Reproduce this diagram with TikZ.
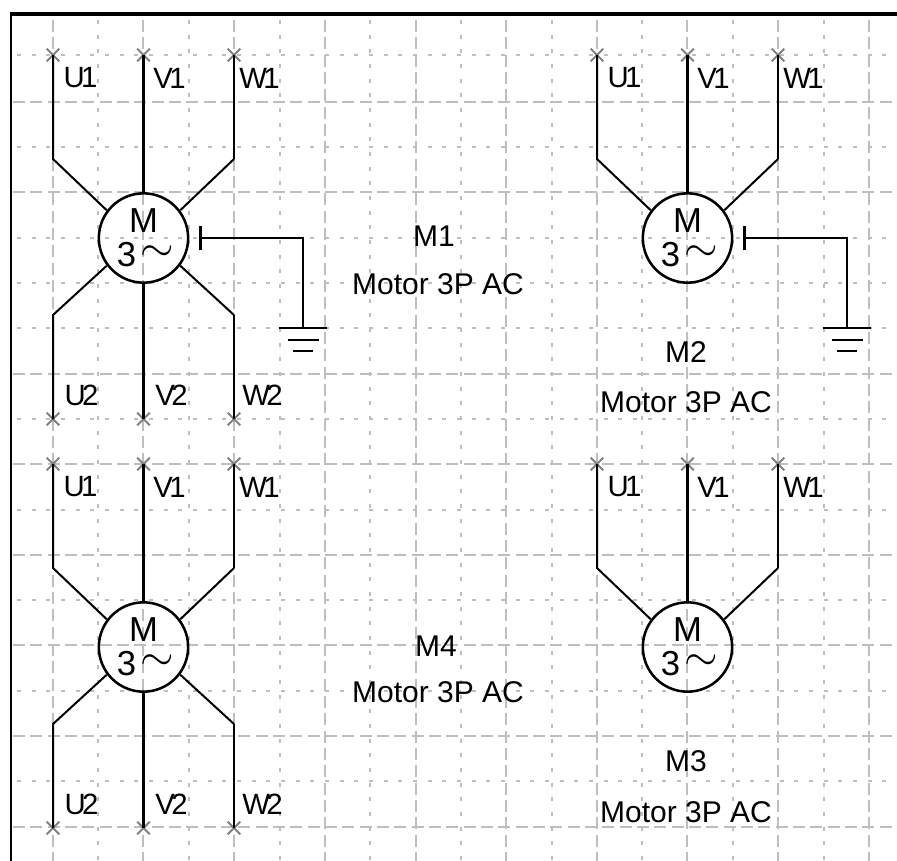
\documentclass[tikz,border=0pt]{standalone}
\usepackage{fontspec}
\setmainfont{Liberation Sans}
\newfontfamily\pinfont[LetterSpace=-12]{Liberation Sans}
\usetikzlibrary{shapes.misc}
\definecolor{gridgray}{RGB}{190,190,190}
\definecolor{crossgray}{RGB}{128,128,128}
\tikzset{every picture/.style={line width=0.75pt}}
\tikzset{
	majorgrid/.style={draw=gridgray,line width=2.1pt,dash pattern=on 9 off 4},
	minorgrid/.style={draw=gridgray,line width=2.1pt,dash pattern=on 3 off 8},
	wire/.style={draw=black,line width=2.2pt},
	thinwire/.style={draw=black,line width=1.5pt},
	terminal/.style={cross out,draw=crossgray,line width=1.5pt,minimum size=8pt,inner sep=0pt},
	motorbody/.style={circle,draw=black,line width=1.9pt,minimum size=67pt,inner sep=0pt},
	pinlabel/.style={inner sep=0pt,font=\pinfont\fontsize{22}{26}\selectfont},
	windinglabel/.style={inner sep=0pt,font=\fontsize{26}{30}\selectfont},
	tildelabel/.style={inner sep=0pt,scale=1.3,font=\fontsize{24}{24}\selectfont},
	motorlabel/.style={inner sep=0pt,font=\fontsize{22.5}{26}\selectfont},
}
\begin{document}
\begin{tikzpicture}[x=0.75pt,y=0.75pt,yscale=-1,xscale=1]
	\useasboundingbox (0,0) rectangle (897,861);

	%grid
	\begin{scope}
	\clip (11,14) rectangle (897,861);
	\foreach \gx in {53,143,234,325,416,506,597,687,778,869}
		\draw [majorgrid] (\gx,20) -- (\gx,861);
	\foreach \gx in {98,189,280,370,461,552,642,733,824}
		\draw [minorgrid] (\gx,20) -- (\gx,861);
	\foreach \gy in {102,192,374,464,555,645,736,827}
		\draw [majorgrid] (13,\gy) -- (897,\gy);
	\foreach \gy in {55,147,238,283,328,419,510,600,691,781}
		\draw [minorgrid] (17,\gy) -- (897,\gy);
	\end{scope}

	%frame
	\draw [line width=1.7pt] (11,861) -- (11,14);
	\draw [line width=2.6pt] (10,14) -- (897,14);

	%motors, upper half
	\foreach \name/\cx/\cy in {mone/143.5/238,mtwo/687.5/238,mthree/687.5/647,mfour/143.5/647}{
		\begin{scope}[shift={(\cx,\cy)}]
		\node [motorbody] (\name) at (0,0) {};
		\node [terminal] (\name u1) at (-90.5,-183) {};
		\node [terminal] (\name v1) at (0,-183) {};
		\node [terminal] (\name w1) at (90.5,-183) {};
		\node [pinlabel] (\name lu1) at (-63,-160) {U1};
		\node [pinlabel] (\name lv1) at (26,-160) {V1};
		\node [pinlabel] (\name lw1) at (116,-160) {W1};
		\node [windinglabel] (\name m) at (0,-17) {M};
		\node [windinglabel] (\name p) at (-17,17) {3};
		\node [tildelabel] (\name t) at (14,16) {$\sim$};
		\draw [thinwire] (\name u1.center) -- ++(0,104) -- (\name.143);
		\draw [wire] (\name v1.center) -- (\name.north);
		\draw [wire] (\name w1.center) -- ++(0,104);
		\draw [thinwire] (90.5,-79) -- (\name.37);
		\end{scope}
	}

	%motors, lower half
	\foreach \name/\cx/\cy in {mone/143.5/238,mfour/143.5/647}{
		\begin{scope}[shift={(\cx,\cy)}]
		\node [terminal] (\name u2) at (-90.5,181) {};
		\node [terminal] (\name v2) at (0,181) {};
		\node [terminal] (\name w2) at (90.5,181) {};
		\node [pinlabel] (\name lu2) at (-62,157) {U2};
		\node [pinlabel] (\name lv2) at (28,157) {V2};
		\node [pinlabel] (\name lw2) at (119,157) {W2};
		\draw [thinwire] (\name u2.center) -- ++(0,-104) -- (\name.217);
		\draw [wire] (\name v2.center) -- (\name.south);
		\draw [wire] (\name w2.center) -- ++(0,-104);
		\draw [thinwire] (90.5,77) -- (\name.323);
		\end{scope}
	}

	%earth
	\foreach \name/\cx in {mone/143.5,mtwo/687.5}{
		\begin{scope}[shift={(\cx,238)}]
		\coordinate (\name e) at (57,0);
		\coordinate (\name g) at (159.5,90);
		\draw [wire] (\name e) -- (159.5,0) -- (\name g);
		\draw [wire] (57,-12) -- (57,12);
		\draw [wire] (135,90) -- (183,90);
		\draw [thinwire] (144,102) -- (175,102);
		\draw [wire] (149,113) -- (169,113);
		\end{scope}
	}

	% Text Node
	\node [motorlabel] (mone name) at (434,236) {M1};
	\node [motorlabel] (mone type) at (438,284) {Motor 3P AC};
	\node [motorlabel] (mtwo name) at (686,352) {M2};
	\node [motorlabel] (mtwo type) at (686,402) {Motor 3P AC};
	\node [motorlabel] (mthree name) at (686,761) {M3};
	\node [motorlabel] (mthree type) at (686,812) {Motor 3P AC};
	\node [motorlabel] (mfour name) at (436,646) {M4};
	\node [motorlabel] (mfour type) at (438,692) {Motor 3P AC};
\end{tikzpicture}
\end{document}
